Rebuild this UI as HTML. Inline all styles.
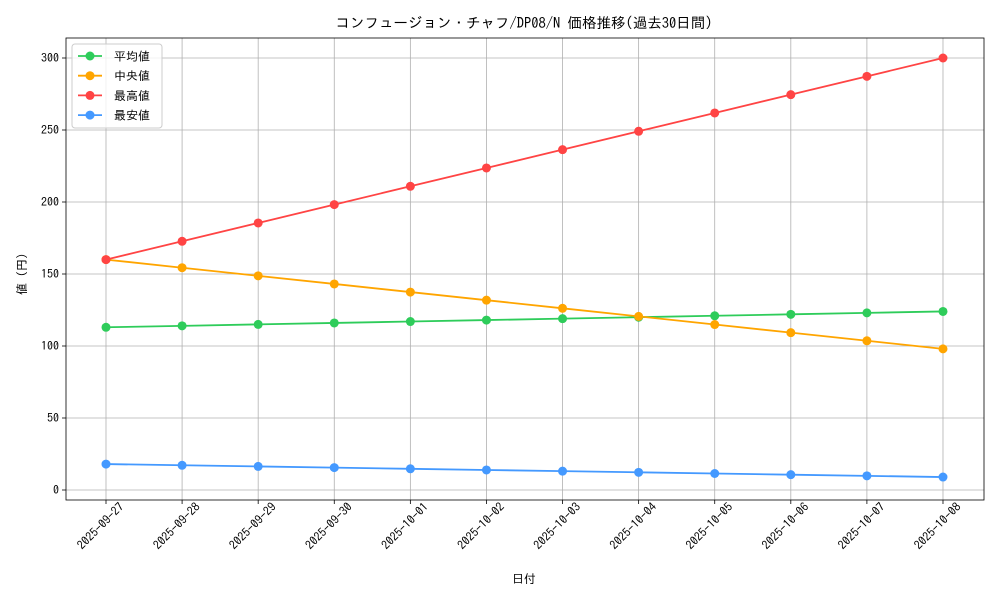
<!DOCTYPE html>
<html><head><meta charset="utf-8"><style>body{margin:0;background:#fff}svg{display:block}text{font-family:"IPAGothic","Liberation Sans","Noto Sans CJK JP",sans-serif;fill:#000}</style></head>
<body>
<svg width="1000" height="600" viewBox="0 0 1000 600" xmlns="http://www.w3.org/2000/svg">
<rect width="1000" height="600" fill="#fff"/>
<g id="grid" stroke="#b0b0b0" stroke-width="0.8"></g>
<rect x="66" y="38" width="918" height="462" fill="none" stroke="#000" stroke-width="0.8"/>
<g id="ticks"></g>
<g id="series"></g>
<text x="524" y="28" font-size="14.5" text-anchor="middle">コンフュージョン・チャフ/DP08/N 価格推移(過去30日間)</text>
<text x="524" y="583" font-size="12" text-anchor="middle">日付</text>
<text transform="translate(26,274) rotate(-90)" font-size="12" text-anchor="middle">値 (円)</text>
<rect x="72" y="44" width="90" height="84" fill="#fff" fill-opacity="0.8" stroke="#ccc" rx="3"/>
<g id="legend"></g>
</svg>
<script>
const ns="http://www.w3.org/2000/svg";
function el(p,t,a,txt){const e=document.createElementNS(ns,t);for(const k in a)e.setAttribute(k,a[k]);if(txt!==undefined)e.textContent=String(txt);document.getElementById(p).appendChild(e);}
const X=i=>106+i*76.09, Y=v=>490-v*1.44;
const dates=["2025-09-27","2025-09-28","2025-09-29","2025-09-30","2025-10-01","2025-10-02","2025-10-03","2025-10-04","2025-10-05","2025-10-06","2025-10-07","2025-10-08"];
for(let i=0;i<12;i++){const x=X(i);el("grid","line",{x1:x,x2:x,y1:38,y2:500});
el("ticks","line",{x1:x,x2:x,y1:500,y2:504,stroke:"#000","stroke-width":0.8});
el("ticks","text",{transform:`translate(${x+13},502) rotate(-45)`,"font-size":12,"text-anchor":"end","dominant-baseline":"hanging"},dates[i]);}
for(let v=0;v<=300;v+=50){const y=Y(v);el("grid","line",{x1:66,x2:984,y1:y,y2:y});
el("ticks","line",{x1:62,x2:66,y1:y,y2:y,stroke:"#000","stroke-width":0.8});
el("ticks","text",{x:59,y:y+4,"font-size":12,"text-anchor":"end"},v);}
const S=[["平均値","#2ecc5a",i=>113+i],["中央値","#ffa500",i=>160-i*62/11],["最高値","#ff4444",i=>160+i*140/11],["最安値","#4499ff",i=>18-i*9/11]];
S.forEach((s,k)=>{let pts=[];for(let i=0;i<12;i++)pts.push(X(i)+","+Y(s[2](i)));
el("series","polyline",{points:pts.join(" "),fill:"none",stroke:s[1],"stroke-width":1.8});
for(let i=0;i<12;i++)el("series","circle",{cx:X(i),cy:Y(s[2](i)),r:4.5,fill:s[1]});
const ly=56+k*19.7;el("legend","line",{x1:78,x2:102,y1:ly,y2:ly,stroke:s[1],"stroke-width":1.8});
el("legend","circle",{cx:90,cy:ly,r:4.5,fill:s[1]});el("legend","text",{x:114,y:ly+4.5,"font-size":12},s[0]);});
</script>
</body></html>
